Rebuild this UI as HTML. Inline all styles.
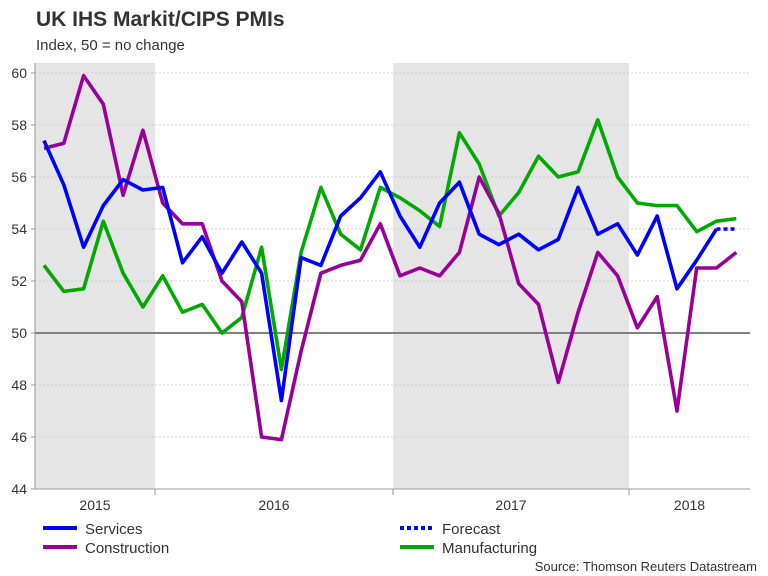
<!DOCTYPE html>
<html><head><meta charset="utf-8"><style>
body{margin:0;background:#fff}
svg{display:block;font-family:"Liberation Sans",Arial,sans-serif}
</style></head><body>
<svg id="chart" width="768" height="576" viewBox="0 0 768 576">
<text x="36" y="26" font-size="21" font-weight="bold" fill="#333">UK IHS Markit/CIPS PMIs</text>
<text x="36" y="50" font-size="15" fill="#333">Index, 50 = no change</text>
<g id="shade"></g><g id="grid"></g><g id="axes"></g><g id="series"></g>
<g>
<line x1="43" y1="528" x2="77" y2="528" stroke="#0000ff" stroke-width="4"/>
<text x="85" y="534" font-size="15" fill="#333">Services</text>
<line x1="43" y1="547" x2="77" y2="547" stroke="#990099" stroke-width="4"/>
<text x="85" y="553" font-size="15" fill="#333">Construction</text>
<line x1="400" y1="528" x2="434" y2="528" stroke="#0000ff" stroke-width="4" stroke-dasharray="4,3"/>
<text x="442" y="534" font-size="15" fill="#333">Forecast</text>
<line x1="400" y1="547" x2="434" y2="547" stroke="#00aa00" stroke-width="4"/>
<text x="442" y="553" font-size="15" fill="#333">Manufacturing</text>
</g>
<text x="757" y="571" font-size="13" fill="#333" text-anchor="end">Source: Thomson Reuters Datastream</text>
</svg>
<script>
const yTicks=[44,46,48,50,52,54,56,58,60];
const years=["2015","2016","2017","2018"];
const services=[57.4,55.7,53.3,54.9,55.9,55.5,55.6,52.7,53.7,52.3,53.5,52.3,47.4,52.9,52.6,54.5,55.2,56.2,54.5,53.3,55.0,55.8,53.8,53.4,53.8,53.2,53.6,55.6,53.8,54.2,53.0,54.5,51.7,52.8,54.0];
const forecast=[null,null,null,null,null,null,null,null,null,null,null,null,null,null,null,null,null,null,null,null,null,null,null,null,null,null,null,null,null,null,null,null,null,null,54.0,54.0];
const construction=[57.1,57.3,59.9,58.8,55.3,57.8,55.0,54.2,54.2,52.0,51.2,46.0,45.9,49.3,52.3,52.6,52.8,54.2,52.2,52.5,52.2,53.1,56.0,54.6,51.9,51.1,48.1,50.8,53.1,52.2,50.2,51.4,47.0,52.5,52.5,53.1];
const manufacturing=[52.6,51.6,51.7,54.3,52.3,51.0,52.2,50.8,51.1,50.0,50.6,53.3,48.6,53.1,55.6,53.8,53.2,55.6,55.2,54.7,54.1,57.7,56.5,54.5,55.4,56.8,56.0,56.2,58.2,56.0,55.0,54.9,54.9,53.9,54.3,54.4];
const NS="http://www.w3.org/2000/svg";
const yS=v=>73+(60-v)*26;
const xS=i=>44+i*19.78;
function mk(tag,attrs,parent){const e=document.createElementNS(NS,tag);for(const k in attrs)e.setAttribute(k,attrs[k]);parent.appendChild(e);return e;}
const shade=document.getElementById('shade'),grid=document.getElementById('grid'),axes=document.getElementById('axes'),ser=document.getElementById('series');
const bounds=[35,155,393,629,750];
[0,2].forEach(k=>{const r=mk('rect',{x:bounds[k],y:63,width:bounds[k+1]-bounds[k],height:426,fill:'#e5e5e5'},shade);

});
yTicks.forEach(v=>{
 if(v!==44&&v!==50){const l=mk('line',{x1:35,x2:750,y1:yS(v),y2:yS(v),stroke:'#d0d0d0','stroke-dasharray':'2,2','stroke-width':1},grid);
 
 }
 const t=mk('line',{x1:31,x2:35,y1:yS(v),y2:yS(v),stroke:'#999'},axes);
 
 
 const tx=mk('text',{x:27,y:yS(v)+5,'font-size':14,fill:'#333','text-anchor':'end'},axes);tx.textContent=v;
 
 
});
const ref=mk('line',{x1:35,x2:750,y1:yS(50),y2:yS(50),stroke:'#808080','stroke-width':2},axes);


const ya=mk('line',{x1:35,x2:35,y1:63,y2:489,stroke:'#999'},axes);


const xa=mk('line',{x1:35,x2:750,y1:489,y2:489,stroke:'#999'},axes);


[155,393,629].forEach((x,k)=>{const t=mk('line',{x1:x,x2:x,y1:489,y2:495,stroke:'#999'},axes);

});
years.forEach((y,k)=>{const t=mk('text',{x:(bounds[k]+bounds[k+1])/2,y:510,'font-size':14,fill:'#333','text-anchor':'middle'},axes);t.textContent=y;

});
function line(arr,color,name,dash){let d='';let pen=false;arr.forEach((v,i)=>{if(v==null){pen=false;return;}d+=(pen?'L':'M')+xS(i).toFixed(1)+','+yS(v).toFixed(1);pen=true;});
 const p=mk('path',{d:d,fill:'none',stroke:color,'stroke-width':3.6,'stroke-linejoin':'round'},ser);if(dash)p.setAttribute('stroke-dasharray',dash);
 
 }
line(manufacturing,'#00aa00','manufacturing-line');
line(construction,'#990099','construction-line');
line(services,'#0000ff','services-line');
line(forecast,'#0000ff','forecast-line','4,3');
</script>
</body></html>
